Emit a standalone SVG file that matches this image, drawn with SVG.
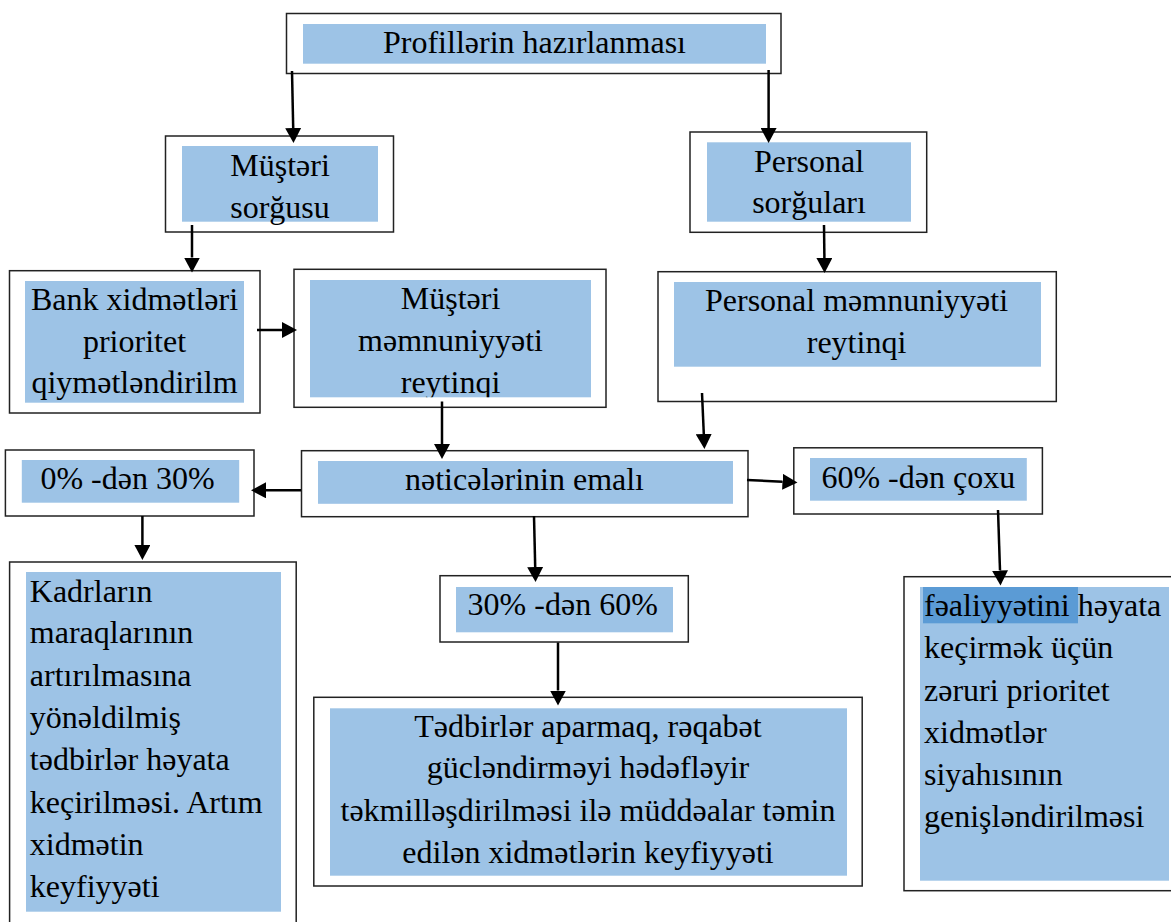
<svg xmlns="http://www.w3.org/2000/svg" width="1171" height="922" viewBox="0 0 1171 922">
<style>
.box{fill:#fff;stroke:#222;stroke-width:1.5}
.fill{fill:#9DC3E6}
.hl{fill:#5B9BD5}
text{font-family:"Liberation Serif","Times New Roman","DejaVu Serif",serif;font-size:32px;fill:#000}
.c{text-anchor:middle}
.conn line{stroke:#000;stroke-width:2.5;marker-end:url(#ah)}
</style>
<defs>
<marker id="ah" markerUnits="userSpaceOnUse" markerWidth="16" markerHeight="16" refX="0" refY="8" orient="auto" viewBox="0 0 16 16">
<path d="M0,0 L15,8 L0,16 z" fill="#000"/>
</marker>
<clipPath id="clipE"><rect x="310" y="280" width="281" height="117.3"/></clipPath>
</defs>
<rect width="1171" height="922" fill="#fff"/>

<g id="n-profil">
<rect class="box" x="286.5" y="13.5" width="494.5" height="60"/>
<rect class="fill" x="303" y="24" width="463" height="39.7"/>
<text class="c" x="534.5" y="53.3">Profillərin hazırlanması</text>
</g>

<g id="n-musteri-sorgusu">
<rect class="box" x="165.5" y="136" width="228" height="96"/>
<rect class="fill" x="182" y="146" width="196" height="75.7"/>
<text class="c" x="280" y="175.7">Müştəri</text>
<text class="c" x="280" y="218">sorğusu</text>
</g>

<g id="n-personal-sorgulari">
<rect class="box" x="690" y="132" width="236.7" height="100.3"/>
<rect class="fill" x="707" y="142.3" width="204" height="79.4"/>
<text class="c" x="809" y="171.7">Personal</text>
<text class="c" x="809" y="213">sorğuları</text>
</g>

<g id="n-bank">
<rect class="box" x="9.5" y="270.7" width="250.5" height="142.3"/>
<rect class="fill" x="25" y="281" width="219" height="121.7"/>
<text class="c" x="134.5" y="310">Bank xidmətləri</text>
<text class="c" x="134.5" y="351.7">prioritet</text>
<text class="c" x="134.5" y="393.3">qiymətləndirilm</text>
</g>

<g id="n-musteri-memnuniyyeti">
<rect class="box" x="294" y="269.3" width="312" height="138"/>
<rect class="fill" x="310" y="280" width="281" height="117.3"/>
<g clip-path="url(#clipE)">
<text class="c" x="450.5" y="309">Müştəri</text>
<text class="c" x="450.5" y="350.7">məmnuniyyəti</text>
<text class="c" x="450.5" y="393">reytinqi</text>
</g>
</g>

<g id="n-personal-memnuniyyeti">
<rect class="box" x="658" y="271.7" width="398.3" height="129.8"/>
<rect class="fill" x="674" y="282" width="367" height="84.7"/>
<text class="c" x="856.5" y="310.7">Personal məmnuniyyəti</text>
<text class="c" x="856.5" y="353.3">reytinqi</text>
</g>

<g id="n-0-30">
<rect class="box" x="5.4" y="450" width="248.6" height="66"/>
<rect class="fill" x="21.8" y="460" width="217.4" height="42.7"/>
<text class="c" x="127.5" y="489.3">0% -dən 30%</text>
</g>

<g id="n-neticeler">
<rect class="box" x="301.5" y="450.7" width="446.5" height="66"/>
<rect class="fill" x="318" y="461" width="415" height="42.8"/>
<text class="c" x="524.5" y="490">nəticələrinin emalı</text>
</g>

<g id="n-60">
<rect class="box" x="793.8" y="447.8" width="248.6" height="66.2"/>
<rect class="fill" x="810" y="458" width="216.8" height="42.7"/>
<text class="c" x="918.3" y="488.3">60% -dən çoxu</text>
</g>

<g id="n-kadrlar">
<rect class="box" x="9.6" y="562" width="286.6" height="380"/>
<rect class="fill" x="26" y="572" width="255" height="339.7"/>
<text x="29.8" y="601.7">Kadrların</text>
<text x="29.8" y="643.3">maraqlarının</text>
<text x="29.8" y="685.7">artırılmasına</text>
<text x="29.8" y="727.7">yönəldilmiş</text>
<text x="29.8" y="770">tədbirlər həyata</text>
<text x="29.8" y="812.7">keçirilməsi. Artım</text>
<text x="29.8" y="855">xidmətin</text>
<text x="29.8" y="896.7">keyfiyyəti</text>
</g>

<g id="n-30-60">
<rect class="box" x="440" y="575.7" width="248.3" height="66.3"/>
<rect class="fill" x="456" y="587" width="217" height="45.3"/>
<text class="c" x="562.7" y="615.3">30% -dən 60%</text>
</g>

<g id="n-tedbirler">
<rect class="box" x="313.8" y="697.3" width="548.4" height="188.7"/>
<rect class="fill" x="330" y="708.3" width="517" height="167.4"/>
<text class="c" x="588" y="736.7">Tədbirlər aparmaq, rəqabət</text>
<text class="c" x="588" y="778.3">gücləndirməyi hədəfləyir</text>
<text class="c" x="588" y="820.7">təkmilləşdirilməsi ilə müddəalar təmin</text>
<text class="c" x="588" y="862.7">edilən xidmətlərin keyfiyyəti</text>
</g>

<g id="n-fealiyyet">
<rect class="box" x="904" y="576.7" width="300" height="314"/>
<rect class="fill" x="920" y="587" width="249" height="293.7"/>
<rect class="hl" x="923" y="587" width="155" height="36.3"/>
<text x="924" y="616">fəaliyyətini həyata</text>
<text x="924" y="658.3">keçirmək üçün</text>
<text x="924" y="701">zəruri prioritet</text>
<text x="924" y="742.7">xidmətlər</text>
<text x="924" y="785">siyahısının</text>
<text x="924" y="827.3">genişləndirilməsi</text>
</g>

<g id="connectors" class="conn">
<line x1="292" y1="71" x2="293.2" y2="128"/>
<line x1="768.6" y1="70" x2="768.6" y2="128"/>
<line x1="192" y1="225" x2="192" y2="257.5"/>
<line x1="824" y1="225" x2="824.4" y2="258"/>
<line x1="257" y1="330" x2="282" y2="330"/>
<line x1="442" y1="401.5" x2="442" y2="444"/>
<line x1="702" y1="393" x2="703.8" y2="434"/>
<line x1="301" y1="490.3" x2="266" y2="490.3"/>
<line x1="747" y1="480" x2="782.5" y2="481.8"/>
<line x1="142.4" y1="516" x2="142.4" y2="545"/>
<line x1="534" y1="516" x2="535.2" y2="567"/>
<line x1="558" y1="642.5" x2="558" y2="690.5"/>
<line x1="998" y1="510" x2="1000" y2="570.5"/>
</g>
</svg>
